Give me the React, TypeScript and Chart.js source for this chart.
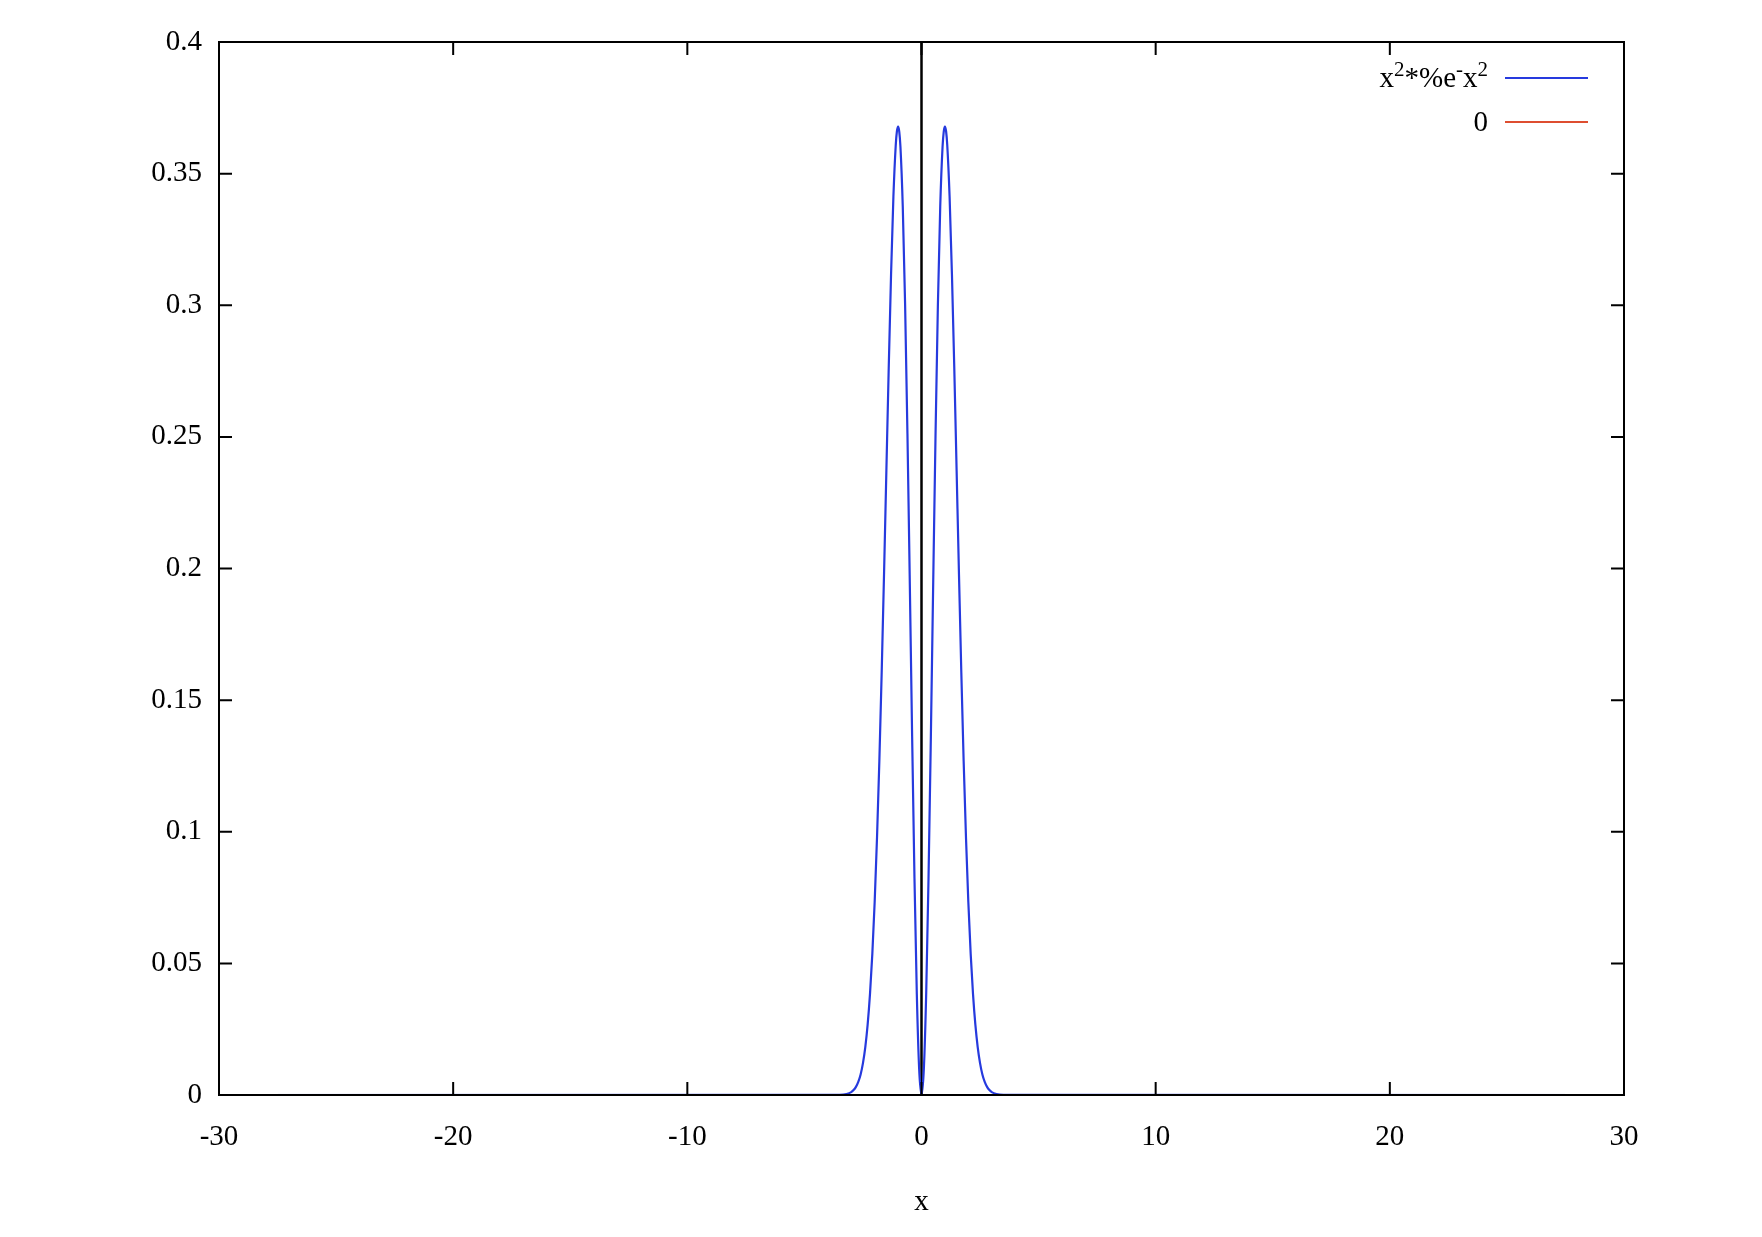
import React, { useEffect, useRef } from 'react';
import { Chart, registerables } from 'chart.js';

Chart.register(...registerables);

// values
const curveX = [
  -30, -3.5, -3.2, -3.0, -2.9, -2.8, -2.7, -2.6, -2.5, -2.4, -2.3, -2.2, -2.1, -2.0,
  -1.9, -1.8, -1.7, -1.6, -1.5, -1.4, -1.3, -1.2, -1.1, -1.05, -1.0, -0.95, -0.9,
  -0.8, -0.7, -0.6, -0.5, -0.4, -0.3, -0.2, -0.1, 0,
  0.1, 0.2, 0.3, 0.4, 0.5, 0.6, 0.7, 0.8, 0.9, 0.95, 1.0, 1.05, 1.1, 1.2, 1.3, 1.4,
  1.5, 1.6, 1.7, 1.8, 1.9, 2.0, 2.1, 2.2, 2.3, 2.4, 2.5, 2.6, 2.7, 2.8, 2.9, 3.0,
  3.2, 3.5, 30,
];
const curveY = [
  0, 0.0001, 0.0004, 0.0011, 0.0019, 0.0031, 0.005, 0.0078, 0.0121, 0.0182, 0.0267,
  0.0383, 0.0536, 0.0733, 0.0977, 0.1269, 0.1606, 0.1979, 0.2371, 0.2761, 0.3118,
  0.3412, 0.3608, 0.3661, 0.3679, 0.366, 0.3603, 0.3375, 0.3002, 0.2512, 0.1947,
  0.1363, 0.0823, 0.0384, 0.0099, 0,
  0.0099, 0.0384, 0.0823, 0.1363, 0.1947, 0.2512, 0.3002, 0.3375, 0.3603, 0.366,
  0.3679, 0.3661, 0.3608, 0.3412, 0.3118, 0.2761, 0.2371, 0.1979, 0.1606, 0.1269,
  0.0977, 0.0733, 0.0536, 0.0383, 0.0267, 0.0182, 0.0121, 0.0078, 0.005, 0.0031,
  0.0019, 0.0011, 0.0004, 0.0001, 0,
];
const zeroX = [-30, 30];
const zeroY = [0, 0];

const seriesLabels = ['x^2*%e^-x^2', '0'];
const seriesColors = ['rgb(38,58,222)', 'rgb(222,78,48)'];
const xTickValues = [-30, -20, -10, 0, 10, 20, 30];
const xTickLabels = ['-30', '-20', '-10', '0', '10', '20', '30'];
const yTickValues = [0, 0.05, 0.1, 0.15, 0.2, 0.25, 0.3, 0.35, 0.4];
const yTickLabels = ['0', '0.05', '0.1', '0.15', '0.2', '0.25', '0.3', '0.35', '0.4'];
const xTitle = 'x';

const FONT = '"Liberation Serif", "Times New Roman", serif';
const FONT_SIZE = 29;
const SUP_SIZE = 21;

function parseSup(label: string) {
  const parts: { t: string; sup: boolean }[] = [];
  let i = 0;
  let buf = '';
  while (i < label.length) {
    if (label[i] === '^' && i + 1 < label.length) {
      if (buf) parts.push({ t: buf, sup: false });
      buf = '';
      parts.push({ t: label[i + 1], sup: true });
      i += 2;
    } else {
      buf += label[i];
      i += 1;
    }
  }
  if (buf) parts.push({ t: buf, sup: false });
  return parts;
}

const framePlugin = {
  id: 'gnuplotFrame',
  beforeDatasetsDraw(chart: any) {
    const { ctx, chartArea, scales } = chart;
    const x0 = scales.x.getPixelForValue(0);
    ctx.save();
    ctx.strokeStyle = '#000';
    ctx.lineWidth = 2.5;
    ctx.beginPath();
    ctx.moveTo(x0, chartArea.top);
    ctx.lineTo(x0, chartArea.bottom);
    ctx.stroke();
    ctx.restore();
  },
  afterDatasetsDraw(chart: any) {
    const { ctx, chartArea, scales } = chart;
    const { left, right, top, bottom } = chartArea;
    const tick = 13;
    ctx.save();
    ctx.strokeStyle = '#000';
    ctx.lineWidth = 2;
    ctx.strokeRect(left, top, right - left, bottom - top);
    ctx.beginPath();
    xTickValues.forEach((v) => {
      const px = scales.x.getPixelForValue(v);
      ctx.moveTo(px, bottom);
      ctx.lineTo(px, bottom - tick);
      ctx.moveTo(px, top);
      ctx.lineTo(px, top + tick);
    });
    yTickValues.forEach((v) => {
      const py = scales.y.getPixelForValue(v);
      ctx.moveTo(left, py);
      ctx.lineTo(left + tick, py);
      ctx.moveTo(right, py);
      ctx.lineTo(right - tick, py);
    });
    ctx.stroke();

    // legend (top right, text right-aligned before the sample line)
    const textRight = right - 136;
    const lineStart = right - 119;
    const lineEnd = right - 36;
    const rowY = [top + 36, top + 80];
    chart.data.datasets.forEach((ds: any, i: number) => {
      const y = rowY[i];
      const parts = parseSup(ds.label);
      const widths = parts.map((p) => {
        ctx.font = `${p.sup ? SUP_SIZE : FONT_SIZE}px ${FONT}`;
        return ctx.measureText(p.t).width;
      });
      const total = widths.reduce((a, b) => a + b, 0);
      let x = textRight - total;
      ctx.fillStyle = '#000';
      ctx.textAlign = 'left';
      ctx.textBaseline = 'middle';
      parts.forEach((p, k) => {
        ctx.font = `${p.sup ? SUP_SIZE : FONT_SIZE}px ${FONT}`;
        ctx.fillText(p.t, x, p.sup ? y - 8 : y + 1);
        x += widths[k];
      });
      ctx.strokeStyle = ds.borderColor;
      ctx.lineWidth = 2;
      ctx.beginPath();
      ctx.moveTo(lineStart, y);
      ctx.lineTo(lineEnd, y);
      ctx.stroke();
    });
    ctx.restore();
  },
};

export default function App() {
  const ref = useRef<HTMLCanvasElement | null>(null);

  useEffect(() => {
    if (!ref.current) return;
    const chart = new Chart(ref.current, {
      type: 'line',
      data: {
        datasets: [
          {
            label: seriesLabels[0],
            data: curveX.map((x, i) => ({ x, y: curveY[i] })),
            borderColor: seriesColors[0],
            borderWidth: 2.2,
            pointRadius: 0,
            fill: false,
            cubicInterpolationMode: 'monotone',
            order: 1,
          },
          {
            label: seriesLabels[1],
            data: zeroX.map((x, i) => ({ x, y: zeroY[i] })),
            borderColor: seriesColors[1],
            borderWidth: 2,
            pointRadius: 0,
            fill: false,
            order: 2,
          },
        ],
      },
      options: {
        animation: false,
        responsive: false,
        devicePixelRatio: 1,
        layout: { padding: { top: 42, right: 138, left: 0, bottom: 0 } },
        plugins: {
          legend: { display: false },
          tooltip: { enabled: false },
        },
        scales: {
          x: {
            type: 'linear',
            min: -30,
            max: 30,
            afterFit: (s: any) => {
              s.height = 142;
            },
            afterBuildTicks: (s: any) => {
              s.ticks = xTickValues.map((v) => ({ value: v }));
            },
            grid: { display: false, drawTicks: false },
            border: { display: false },
            ticks: {
              padding: 25,
              color: '#000',
              font: { family: FONT, size: FONT_SIZE },
              maxRotation: 0,
              autoSkip: false,
              callback: (v: any) => {
                const i = xTickValues.indexOf(Number(v));
                return i >= 0 ? xTickLabels[i] : '';
              },
            },
            title: {
              display: true,
              text: xTitle,
              color: '#000',
              font: { family: FONT, size: FONT_SIZE },
              padding: { top: 0, bottom: 17 },
            },
          },
          y: {
            type: 'linear',
            min: 0,
            max: 0.4,
            afterFit: (s: any) => {
              s.width = 219;
            },
            afterBuildTicks: (s: any) => {
              s.ticks = yTickValues.map((v) => ({ value: v }));
            },
            grid: { display: false, drawTicks: false },
            border: { display: false },
            ticks: {
              padding: 17,
              color: '#000',
              font: { family: FONT, size: FONT_SIZE },
              autoSkip: false,
              callback: (v: any) => {
                const i = yTickValues.findIndex((t) => Math.abs(t - Number(v)) < 1e-9);
                return i >= 0 ? yTickLabels[i] : '';
              },
            },
          },
        },
      },
      plugins: [framePlugin],
    } as any);
    return () => chart.destroy();
  }, []);

  return (
    <div style={{ position: 'fixed', left: 0, top: 0, width: 1762, height: 1237, background: '#fff' }}>
      <canvas ref={ref} width={1762} height={1237} style={{ width: 1762, height: 1237 }} />
    </div>
  );
}
